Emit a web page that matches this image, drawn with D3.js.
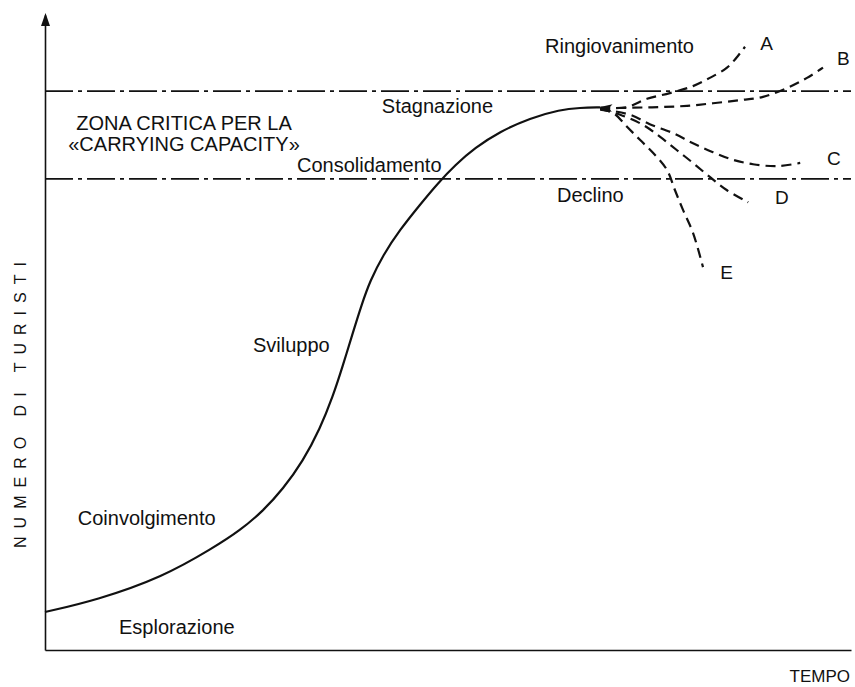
<!DOCTYPE html>
<html>
<head>
<meta charset="utf-8">
<script src="https://cdn.jsdelivr.net/npm/d3@7"></script>
<style>
  body { margin: 0; background: #fff; }
  svg { display: block; }
  text { font-family: "Liberation Sans", Arial, Helvetica, sans-serif; fill: #111; }
</style>
</head>
<body>
<div id="chart"></div>
<script>
// main life-cycle curve (time, tourists)
const lifeCycle = [
  [0, 5.98], [6.5, 7.87], [14.75, 11.5], [21, 16.06], [24.375, 18.82],
  [27.25, 21.89], [29.75, 25.35], [32.25, 29.76], [34.375, 34.85], [36, 39.97],
  [37.25, 44.85], [38.375, 49.53], [39.625, 54.57], [40.625, 58.09], [42.25, 62.19],
  [44.375, 66.2], [46.875, 70.14], [49.125, 73.54], [51.25, 76.35], [53.75, 79.09],
  [56.875, 81.64], [60.625, 83.76], [64.375, 85.09], [66.875, 85.4], [69.375, 85.46]
];

// possible futures after stagnation
const branchA = [[69.4, 85.4], [72.75, 85.5], [75.25, 86.8], [78.1, 87.7], [81, 88.8], [83.1, 90.1], [85.25, 91.7], [86.9, 94.0], [87.5, 95.0]];
const branchB = [[69.4, 85.3], [73.5, 85.4], [76.9, 85.5], [80.25, 85.7], [83.5, 86.1], [86.9, 86.6], [89.75, 87.1], [92.75, 88.5], [95.25, 90.1], [97.25, 91.7]];
const branchC = [[69.4, 85.2], [73.1, 84.3], [75.6, 82.8], [78.5, 81.4], [81, 79.8], [83.5, 78.4], [86, 77.2], [88.5, 76.5], [91.5, 76.2], [94.4, 76.7]];
const branchD = [[69.4, 85.2], [71.9, 84.3], [74.75, 82.7], [76.9, 80.8], [79, 78.7], [81, 76.7], [83.1, 74.5], [85.25, 72.4], [87.9, 70.5]];
const branchE = [[69.4, 85.1], [71, 84.6], [72.75, 82.4], [74.4, 80.3], [76, 78.3], [77.75, 75.6], [78.75, 72.4], [79.75, 69.3], [81, 65.7], [82.25, 60.3]];
const branchNames = ["A", "B", "C", "D", "E"];
const branchEnds = [[89.4, 94.5], [99, 92.1], [97.75, 76.4], [91.25, 70.2], [84.4, 58.4]];

// carrying capacity band (lower, upper)
const capacityBand = [74.2, 88.0];

// stage labels and where they sit
const stageNames = ["Ringiovanimento", "Stagnazione", "Consolidamento", "Declino", "Sviluppo", "Coinvolgimento", "Esplorazione"];
const stageSpots = [[62.5, 94.0], [42.1, 84.6], [31.5, 75.3], [64, 70.6], [26, 46.9], [4.1, 19.7], [9.25, 2.5]];

const width = 855;
const height = 687;

const svg = d3.select("#chart")
  .append("svg")
  .attr("width", width)
  .attr("height", height);

svg.append("rect").attr("width", width).attr("height", height).attr("fill", "#fff");

const x = d3.scaleLinear().domain([0, 100.75]).range([45, 851]);
const y = d3.scaleLinear().domain([0, 100]).range([650, 15]);

// capacity band lines (dash-dot)
svg.selectAll(".band")
  .data(capacityBand)
  .join("line")
  .attr("class", "band")
  .attr("x1", x(0))
  .attr("x2", x(100.75))
  .attr("y1", d => y(d))
  .attr("y2", d => y(d))
  .attr("stroke", "#111")
  .attr("stroke-width", 1.7)
  .attr("stroke-dasharray", "28,5,4,5");

// axes
svg.append("g")
  .attr("transform", `translate(0,${y(0)})`)
  .call(d3.axisBottom(x).tickValues([]).tickSizeOuter(0))
  .call(g => g.select(".domain").attr("stroke", "#111").attr("stroke-width", 1.3));

svg.append("g")
  .attr("transform", `translate(${x(0)},0)`)
  .call(d3.axisLeft(y).tickValues([]).tickSizeOuter(0))
  .call(g => g.select(".domain").attr("stroke", "#111").attr("stroke-width", 1.6));

// arrow on the y axis
const ax = x(0) + 0.5, ay = y(100) - 2;
svg.append("path")
  .attr("d", `M${ax},${ay}L${ax - 4.5},${ay + 13}L${ax + 4.5},${ay + 13}Z`)
  .attr("fill", "#111");

const smooth = d3.line()
  .x(d => x(d[0]))
  .y(d => y(d[1]))
  .curve(d3.curveBasis);

const line = d3.line()
  .x(d => x(d[0]))
  .y(d => y(d[1]))
  .curve(d3.curveCatmullRom);

svg.append("path")
  .datum(lifeCycle)
  .attr("fill", "none")
  .attr("stroke", "#111")
  .attr("stroke-width", 2.2)
  .attr("d", smooth);

// small arrowhead where the branches leave the curve
svg.append("defs").append("marker")
  .attr("id", "head")
  .attr("viewBox", "0 0 12 8")
  .attr("refX", 12)
  .attr("refY", 4)
  .attr("markerWidth", 13)
  .attr("markerHeight", 8)
  .attr("markerUnits", "userSpaceOnUse")
  .attr("orient", "auto-start-reverse")
  .append("path")
  .attr("d", "M0,0L12,4L0,8L3,4Z")
  .attr("fill", "#111");

const branches = [branchA, branchB, branchC, branchD, branchE];
svg.selectAll(".branch")
  .data(branches)
  .join("path")
  .attr("class", "branch")
  .attr("fill", "none")
  .attr("stroke", "#111")
  .attr("stroke-width", 2.2)
  .attr("stroke-dasharray", "10,6")
  .attr("d", line);

// arrowhead pointing back at the curve
svg.append("path")
  .datum([[69.4, 85.5], [72, 85.2]])
  .attr("fill", "none")
  .attr("stroke", "none")
  .attr("marker-start", "url(#head)")
  .attr("d", d3.line().x(d => x(d[0])).y(d => y(d[1])));

svg.selectAll(".blab")
  .data(branchNames)
  .join("text")
  .attr("class", "blab")
  .attr("x", (d, i) => x(branchEnds[i][0]))
  .attr("y", (d, i) => y(branchEnds[i][1]))
  .attr("font-size", 19)
  .text(d => d);

svg.selectAll(".stage")
  .data(stageNames)
  .join("text")
  .attr("class", "stage")
  .attr("x", (d, i) => x(stageSpots[i][0]))
  .attr("y", (d, i) => y(stageSpots[i][1]))
  .attr("font-size", 20)
  .text(d => d);

// zone title
const zone = svg.append("text")
  .attr("x", 184)
  .attr("text-anchor", "middle")
  .attr("font-size", 20);
zone.append("tspan").attr("x", 184).attr("y", 130).text("ZONA CRITICA PER LA");
zone.append("tspan").attr("x", 184).attr("y", 151).text("«CARRYING CAPACITY»");

// axis titles
svg.append("text")
  .attr("x", 850)
  .attr("y", 682)
  .attr("text-anchor", "end")
  .attr("font-size", 17)
  .text("TEMPO");

svg.append("text")
  .attr("transform", "translate(26,401) rotate(-90)")
  .attr("text-anchor", "middle")
  .attr("font-size", 16)
  .attr("letter-spacing", 8)
  .text("NUMERO DI TURISTI");
</script>
</body>
</html>
